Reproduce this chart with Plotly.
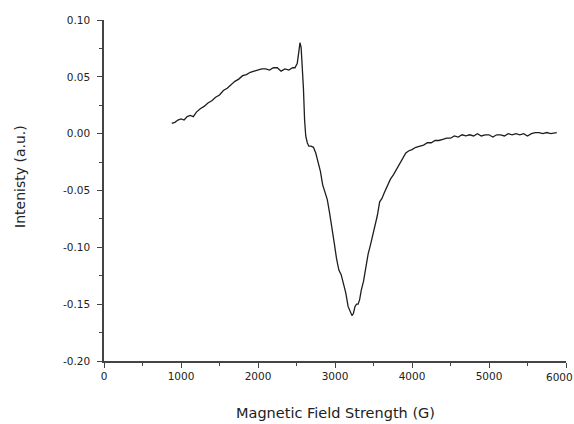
import plotly.graph_objects as go

# EPR-style spectrum: field (G) vs. signal intensity
field = [880, 920, 960, 1000, 1040, 1080, 1120, 1160, 1200, 1250, 1300, 1350, 1400,
         1450, 1500, 1550, 1600, 1650, 1700, 1750, 1800, 1850, 1900, 1950, 2000, 2050,
         2100, 2150, 2200, 2250, 2300, 2350, 2400, 2450, 2480, 2510, 2530, 2545, 2560,
         2575, 2590, 2605, 2620, 2640, 2660, 2690, 2720, 2750, 2780, 2810, 2840, 2870,
         2900, 2930, 2960, 2990, 3020, 3050, 3080, 3110, 3140, 3170, 3200, 3220, 3240,
         3260, 3280, 3300, 3320, 3340, 3370, 3400, 3430, 3460, 3490, 3520, 3550, 3580,
         3610, 3640, 3680, 3720, 3760, 3800, 3840, 3880, 3920, 3960, 4000, 4050, 4100,
         4150, 4200, 4250, 4300, 4350, 4400, 4450, 4500, 4550, 4600, 4650, 4700, 4750,
         4800, 4850, 4900, 4950, 5000, 5050, 5100, 5150, 5200, 5250, 5300, 5350, 5400,
         5450, 5500, 5550, 5600, 5650, 5700, 5750, 5800, 5850, 5880]

intensity = [0.009, 0.010, 0.012, 0.013, 0.012, 0.015, 0.016, 0.015, 0.019, 0.022,
             0.024, 0.027, 0.029, 0.032, 0.034, 0.038, 0.040, 0.043, 0.046, 0.048,
             0.051, 0.052, 0.054, 0.055, 0.056, 0.057, 0.057, 0.056, 0.058, 0.058,
             0.055, 0.057, 0.056, 0.058, 0.058, 0.062, 0.072, 0.080, 0.076, 0.060,
             0.040, 0.012, -0.002, -0.008, -0.011, -0.011, -0.012, -0.017, -0.024,
             -0.033, -0.045, -0.052, -0.058, -0.070, -0.085, -0.096, -0.110, -0.120,
             -0.124, -0.132, -0.140, -0.152, -0.157, -0.160, -0.158, -0.152, -0.150,
             -0.150, -0.146, -0.138, -0.130, -0.118, -0.106, -0.098, -0.090, -0.082,
             -0.072, -0.060, -0.057, -0.052, -0.046, -0.040, -0.036, -0.031, -0.026,
             -0.022, -0.017, -0.015, -0.014, -0.012, -0.011, -0.010, -0.008, -0.008,
             -0.006, -0.006, -0.005, -0.004, -0.004, -0.002, -0.003, -0.001, -0.002,
             -0.001, -0.002, 0.000, -0.002, -0.001, -0.001, -0.003, -0.001, -0.001,
             -0.002, 0.000, -0.001, 0.000, -0.001, 0.000, -0.002, 0.000, 0.001, 0.001,
             0.000, 0.001, 0.000, 0.001, 0.001]

x_ticks = [0, 1000, 2000, 3000, 4000, 5000, 6000]
x_tick_labels = ["0", "1000", "2000", "3000", "4000", "5000", "6000"]
y_ticks = [0.10, 0.05, 0.00, -0.05, -0.10, -0.15, -0.20]
y_tick_labels = ["0.10", "0.05", "0.00", "-0.05", "-0.10", "-0.15", "-0.20"]

x_title = "Magnetic Field Strength (G)"
y_title = "Intenisty (a.u.)"

fig = go.Figure()
fig.add_trace(go.Scatter(x=field, y=intensity, mode="lines",
                         line=dict(color="#1e1e1e", width=1.3), showlegend=False))

FONT = "DejaVu Sans, Verdana, sans-serif"
TXT = "#222222"
axis_common = dict(
    showgrid=False, zeroline=False, showline=True, linecolor="#444444", linewidth=1.5,
    ticks="outside", ticklen=5, tickwidth=1.3, tickcolor="#444444",
    tickfont=dict(size=10.5, family=FONT, color=TXT),
)

# the last x label sits on the figure edge, so it is placed as an annotation
fig.update_xaxes(
    range=[0, 6000], tickvals=x_ticks, ticktext=x_tick_labels[:-1] + [""],
    minor=dict(dtick=500, ticks="outside", ticklen=3, tickcolor="#444444"),
    **axis_common,
)
fig.update_yaxes(
    range=[-0.20, 0.10], tickvals=y_ticks, ticktext=y_tick_labels,
    minor=dict(dtick=0.025, ticks="outside", ticklen=3, tickcolor="#444444"),
    ticklabelstandoff=5,
    **axis_common,
)

fig.add_annotation(x=x_ticks[-1], xref="x", y=0, yref="paper", yanchor="top",
                   yshift=-8, xshift=-7, text=x_tick_labels[-1], showarrow=False,
                   font=dict(size=10.5, family=FONT, color=TXT))
fig.add_annotation(x=0.5, xref="paper", y=-0.152, yref="paper", xanchor="center",
                   yanchor="middle", text=x_title, showarrow=False,
                   font=dict(size=14.5, family=FONT, color=TXT))
fig.add_annotation(x=-0.182, xref="paper", y=0.5425, yref="paper", xanchor="center",
                   yanchor="middle", text=y_title, textangle=-90, showarrow=False,
                   font=dict(size=14, family=FONT, color=TXT))

fig.update_layout(
    width=574, height=424,
    margin=dict(l=104, r=8, t=20, b=63),
    plot_bgcolor="white", paper_bgcolor="white",
)

fig.write_html("out.html")
